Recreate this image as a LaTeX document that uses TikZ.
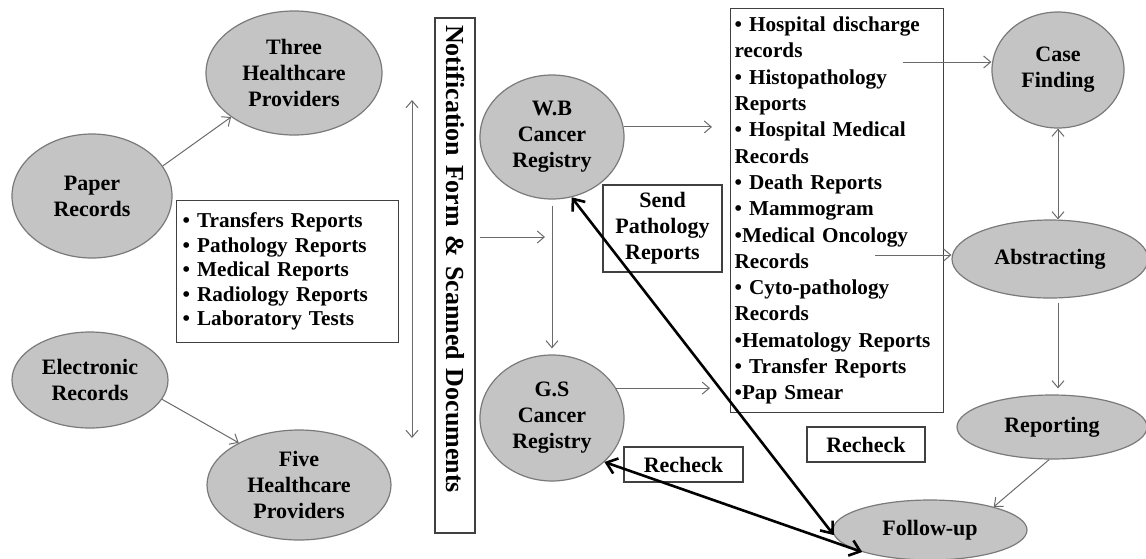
\documentclass[tikz,border=0pt]{standalone}
\usepackage{fontspec}
\setmainfont{Liberation Serif}[WordSpace=0.75]
\usepackage{tikz}
\usetikzlibrary{arrows.meta,shapes.geometric}
\definecolor{ellfill}{HTML}{C4C4C4}
\definecolor{ellline}{HTML}{7A7A7A}
\definecolor{arrgray}{HTML}{6A6A6A}
\definecolor{boxline}{HTML}{404040}

\begin{document}
\begin{tikzpicture}[x=0.5pt, y=-0.5pt,
    every node/.style={font=\fontsize{11}{13}\selectfont\bfseries},
    ell/.style={ellipse, draw=ellline, fill=ellfill, line width=0.6pt,
                inner sep=0pt, align=center},
    lst/.style={draw=boxline, line width=0.6pt, align=left, anchor=north west},
    tag/.style={draw=boxline, line width=0.6pt, align=center, inner sep=0pt},
    fl/.style={-{Straight Barb[length=3.5pt,width=6pt]}, line width=0.5pt, arrgray},
    fl2/.style={{Straight Barb[length=3.5pt,width=6pt]}-{Straight Barb[length=3.5pt,width=6pt]},
                line width=0.5pt, arrgray},
    dbl/.style={{Straight Barb[length=5pt,width=8pt]}-{Straight Barb[length=5pt,width=8pt]},
                line width=1.3pt, black},
  ]
    \useasboundingbox (0,0) rectangle (1146,558);

    % record sources and providers
    \node[ell, minimum width=88pt, minimum height=62pt] (three) at (294,73) {Three\\Healthcare\\Providers};
    \node[ell, minimum width=80pt, minimum height=62pt] (paper) at (92,196) {Paper\\Records};
    \node[ell, minimum width=78pt, minimum height=48pt] (elec) at (90,380) {Electronic\\Records};
    \node[ell, minimum width=92pt, minimum height=55pt] (five) at (299,485) {Five\\Healthcare\\Providers};
    \node[lst, inner sep=3pt, text width=105pt, minimum height=71pt,
          font=\fontsize{10.6}{12.3}\selectfont\bfseries] (docs) at (176,200)
      {• Transfers Reports\\• Pathology Reports\\• Medical Reports\\• Radiology Reports\\• Laboratory Tests};

    % notification column
    \node[tag, rotate=-90, minimum height=20pt, inner xsep=3.5pt, text width=250.5pt, align=left,
          font=\fontsize{13}{15}\selectfont\bfseries] (notif) at (455,275.5)
      {Notification Form \& Scanned Documents};
    \coordinate (vtop) at (412,100);
    \coordinate (vbot) at (412,438);
    \coordinate (nfend) at (545,237);

    % registries
    \node[ell, minimum width=72pt, minimum height=62pt] (wb) at (552,137) {W.B\\Cancer\\Registry};
    \node[ell, minimum width=72pt, minimum height=63pt] (gs) at (552,418) {G.S\\Cancer\\Registry};
    \node[tag, minimum width=59.5pt, minimum height=43.5pt] (send) at (662.5,228.5) {Send\\Pathology\\Reports};
    \node[tag, minimum width=59.5pt, minimum height=17.5pt] (rchka) at (683.5,464.5) {Recheck};
    \node[tag, minimum width=59pt, minimum height=17.5pt] (rchkb) at (866,444.5) {Recheck};

    % source documents list
    \node[lst, inner sep=2pt, text width=102.5pt, minimum height=202pt,
          font=\fontsize{10.6}{13.15}\selectfont\bfseries] (srcs) at (730,8)
      {• Hospital discharge\\records\\• Histopathology\\Reports\\• Hospital Medical\\Records\\%
       • Death Reports\\• Mammogram\\•Medical Oncology\\Records\\• Cyto-pathology\\Records\\%
       •Hematology Reports\\• Transfer Reports\\•Pap Smear};
    \coordinate (cfstart) at (903,62);
    \coordinate (abstart) at (875,255);

    % registry workflow
    \node[ell, minimum width=66pt, minimum height=58pt] (case) at (1058,70) {Case\\Finding};
    \node[ell, minimum width=98pt, minimum height=39pt] (abstr) at (1050,259) {Abstracting};
    \node[ell, minimum width=95pt, minimum height=32pt] (report) at (1052,427) {Reporting};
    \node[ell, minimum width=97pt, minimum height=30pt] (follow) at (930,530) {Follow-up};

    % thin flow arrows
    \draw[fl] (paper.23) -- (three.215);
    \draw[fl] (elec.-15) -- (five.145);
    \draw[fl2] (vtop) -- (vbot);
    \draw[fl, shorten <=2pt] (nfend -| notif.north) -- (nfend);
    \draw[fl, shorten >=9pt] (wb.8) -- (wb.8 -| srcs.west);
    \draw[fl, shorten >=10pt] (gs.25) -- (gs.25 -| srcs.west);
    \draw[fl, shorten <=3pt, shorten >=3pt] (wb.south) -- (gs.north);
    \draw[fl] (cfstart) -- (cfstart -| case.west);
    \draw[fl] (abstart) -- (abstart -| abstr.west);
    \draw[fl2] (case.south) -- (case.south |- abstr.north);
    \draw[fl, shorten <=2pt, shorten >=3pt] (abstr.south -| case) -- (case |- report.north);
    \draw[fl] (report.265) -- (follow.20);

    % recheck loops
    \draw[dbl] (wb.-72) -- (follow.183);
    \draw[dbl] (gs.-40) -- (follow.198);
  \end{tikzpicture}
\end{document}
